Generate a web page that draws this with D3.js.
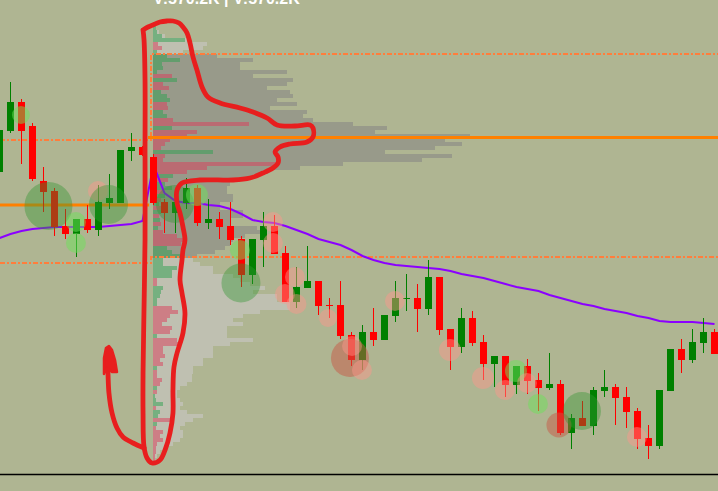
<!DOCTYPE html>
<html><head><meta charset="utf-8">
<script src="https://cdn.jsdelivr.net/npm/d3@7"></script>
<style>html,body{margin:0;padding:0;background:#afb592;overflow:hidden}svg{display:block}</style>
</head><body>
<svg id="c" width="718" height="491"></svg>
<script>
// ---------- DATA ----------
const candleOpen  = [328,369,398,374,319,309,274,266,281,270, 297,297,349,353,343,298,287,297,312,277, 281,274,261,225,260,274,247,198,212,219, 195,195,165,140,168,160,184,201,202,191, 223,171,153,182,158,136,144,115,134,120, 112,116,67,82,74,109,113,103,89,62, 54,109,151,140,157,168];
const candleHigh  = [372,418,401,377,333,312,291,281,295,315, 326,350,367,354,346,301,300,322,315,301, 288,298,264,261,288,285,254,233,254,219, 202,219,168,175,192,185,219,226,216,240, 223,171,192,189,165,144,144,134,141,127, 147,120,86,99,113,130,116,113,92,75, 110,151,161,171,182,171];
const candleLow   = [326,367,336,319,288,264,261,243,267,264, 291,297,339,344,295,267,267,291,274,271, 261,255,213,216,233,246,198,192,212,185, 182,161,134,130,154,160,178,189,168,185, 165,130,147,154,120,113,103,106,106,89, 110,65,51,74,65,103,75,72,51,41, 51,109,127,137,147,146];
const candleClose = [370,398,369,321,308,273,266,281,270,298, 302,350,353,345,297,287,298,312,277,281, 273,260,225,261,274,246,198,213,219,194, 194,164,140,168,160,185,202,202,191,223, 170,153,182,157,136,144,115,134,119,112, 116,67,82,74,110,113,102,88,61,54, 110,151,140,158,168,146];
const vwap = [262,266,269,271,272,273,273,273,273,273, 274,275,276,279,335,307,299,297,297,295, 294,291,286,280,278,277,274,270,266,261, 258,255,250,244,240,237,235,234,233,232, 231,229,226,224,222,219,216,213,211,209, 205,202,199,196,194,191,189,187,184,182, 179,178,178,178,177,176];

// volume profile (current session), rows from top price downward
const profileTopPrice = 474;
const profileRowSize = 4;
const profileAnchorIndex = 13.95;
const profileVolume = [3,6,12,34,54,50,30,64,100,87, 87,134,100,140,134,114,137,140,124,144, 117,154,150,160,200,234,222,317,292,309, 282,232,299,269,190,147,115,100,87,77, 74,74,80,80,67,67,90,90,77,77, 104,107,92,80,77,72,62,44,40,47, 60,60,80,87,97,112,100,124,124,137, 137,107,90,80,90,74,74,74,100,77, 60,60,60,50,50,40,40,39,39,34, 27,24,24,27,30,27,34,50,40,32, 27,30,30,27,20,14,7,4,2];
const profileDelta = [3,4,9,32,-5,-9,4,14,27,9, 10,4,-19,24,-10,-16,8,14,17,-14, -15,10,14,-20,-96,19,-44,-34,-17,-12, -8,60,-12,-10,-125,-54,-34,20,-15,12, 19,-10,12,-8,6,-10,8,-6,7,-8, 5,-10,-24,-30,-28,14,19,27,10,10, 24,19,19,-4,-4,10,8,7,4,4, -19,-25,-17,-14,-9,-19,-17,4,-24,-27, -10,-10,-12,-7,-10,4,-4,-4,-9,-7, 4,-4,2,3,10,-3,7,5,-17,4, -3,-10,-7,-10,-4,-3,-3,-2,-2];

// session levels
const sessionSplit = 13.77;
const prevLevels = {poc: 295, vah: 360, val: 237};
const currLevels = {poc: 362.5, vah: 446, val: 243};

// volume bubbles
const bubbleIndex = [1.95,4.45,8.95,9.91,6.95,6.95,15.95,17.95,24.86,24.86,21.86,21.95,26.86,25.95,27.0,29.86,31.86,32.95,32.05,35.95,40.95,43.95,46.95,45.95,47.95,48.95,50.86,52.95,57.95];
const bubblePrice = [385,294,309,295.5,278,257,296,305,278,257,250,217,223,206,196,182,142,130,154,199,150,122,129,110,117,96,75,89,63];
const bubbleVolume = [84,600,104,396,104,104,376,126,104,104,104,396,104,104,104,84,376,104,104,104,126,126,126,104,104,104,163,376,104];
const bubbleSide = ["buy","buy","sell","buy","buy","buy","buy","buy","sell","sell","buy","buy","sell","sell","sell","sell","sell","sell","sell","sell","sell","sell","buy","sell","sell","buy","sell","buy","sell"];
const bubbleLevel = [1,2,1,2,1,1,2,1,1,1,1,2,1,1,1,1,2,1,1,1,1,1,1,1,1,1,2,2,1];

const headerText = "V:570.2K | V:570.2K";

// hand-drawn annotation (bar index, price)
const noteLoop = [[13.05,470],[13.5,473],[13.95,475],[14.59,478],[15.23,479],[15.77,479],[16.32,477],[16.68,473],[17.05,467],[17.32,457],[17.59,443],[17.95,430],[18.41,413],[18.95,403],[20.05,397],[21.86,392],[23.05,388],[24.32,382],[25.23,375],[26.86,374],[28.23,375],[28.5,372],[28.5,363],[27.95,358],[26.41,356],[25.5,353],[25.05,348],[25.32,343],[25.32,337],[24.86,332],[23.95,327],[22.77,322],[21.23,320],[18.23,320],[16.59,317],[16.14,310],[16.14,297],[16.41,287],[16.68,273],[16.86,260],[16.68,250],[16.59,240],[16.41,220],[16.59,207],[16.86,187],[16.68,167],[16.14,147],[15.86,133],[15.77,110],[15.77,87],[15.5,67],[15.05,50],[14.59,40],[13.86,37],[13.41,42],[13.14,53],[13.05,87],[13.05,127],[13.14,193],[13.23,260],[13.23,350],[13.23,420],[13.14,460],[13.05,470]];
const noteArrow = [[13.14,52],[12.14,57],[11.23,63],[10.68,72],[10.23,87],[9.95,107],[9.86,127],[9.77,145]];
const noteHead = [[9.5,126],[9.5,142],[9.68,152],[9.95,154],[10.23,150],[10.5,140],[10.68,128],[10.23,128],[9.77,132]];

// ---------- DRAW ----------
const W = 718, H = 491;
const svg = d3.select("#c");
const x = d3.scaleLinear().domain([0, 65]).range([-0.5, 714.5]);
const y = d3.scaleLinear().domain([9, 500]).range([491, 0]);
const vol = d3.scaleLinear().domain([0, 320]).range([0, 320]);
const rad = d3.scaleSqrt().domain([0, 600]).range([0, 24]);
const xLeft = x.invert(0), xRight = x.invert(W);
const step = x(1) - x(0);
const bodyW = Math.round(step * 0.64);

svg.append("rect").attr("width", W).attr("height", H).attr("fill", "#afb592");

// volume profile
const gP = svg.append("g").attr("shape-rendering", "crispEdges");
const px0 = x(profileAnchorIndex);
profileVolume.forEach((v, r) => {
  const pTop = profileTopPrice - r * profileRowSize;
  const pMid = pTop - profileRowSize / 2;
  const inVA = pMid >= currLevels.val && pMid <= currLevels.vah;
  gP.append("rect").attr("x", px0).attr("y", y(pTop))
    .attr("width", vol(v) - vol(0)).attr("height", y(pTop - profileRowSize) - y(pTop))
    .attr("fill", inVA ? "#989a8a" : "#bfc0b1");
  const d = profileDelta[r];
  gP.append("rect").attr("x", px0).attr("y", y(pTop))
    .attr("width", vol(Math.abs(d)) - vol(0)).attr("height", y(pTop - profileRowSize) - y(pTop))
    .attr("fill", d >= 0 ? "rgba(46,160,80,0.5)" : "rgba(220,60,90,0.5)");
});

// level lines
const lineXY = d3.line().x(d => x(d[0])).y(d => y(d[1]));
const gL = svg.append("g").attr("fill", "none");
gL.append("path").attr("d", lineXY([[xLeft, prevLevels.vah], [sessionSplit, prevLevels.vah], [sessionSplit, currLevels.vah], [xRight, currLevels.vah]]))
  .attr("stroke", "#ff7d3c").attr("stroke-width", 2).attr("stroke-dasharray", "5,2,2,2").attr("shape-rendering", "crispEdges");
gL.append("path").attr("d", lineXY([[xLeft, prevLevels.val], [sessionSplit, prevLevels.val], [sessionSplit, currLevels.val], [xRight, currLevels.val]]))
  .attr("stroke", "#ff7d3c").attr("stroke-width", 2).attr("stroke-dasharray", "5,2,2,2").attr("shape-rendering", "crispEdges");
gL.append("path").attr("d", lineXY([[xLeft, prevLevels.poc], [13.6, prevLevels.poc]]))
  .attr("stroke", "#ff8000").attr("stroke-width", 3);
gL.append("path").attr("d", lineXY([[13.5, currLevels.poc], [xRight, currLevels.poc]]))
  .attr("stroke", "#ff8000").attr("stroke-width", 3);

// VWAP
svg.append("path").datum(vwap)
  .attr("d", d3.line().x((d, i) => x(i)).y(d => y(d)))
  .attr("fill", "none").attr("stroke", "#8b00ff").attr("stroke-width", 2);

// candles
const gC = svg.append("g").attr("shape-rendering", "crispEdges");
candleOpen.forEach((o, i) => {
  const c = candleClose[i], up = c >= o;
  const col = up ? "#008000" : "#ff0000";
  const cx = x(i);
  gC.append("rect").attr("x", cx - 0.5).attr("y", y(candleHigh[i]))
    .attr("width", 1).attr("height", Math.max(1, y(candleLow[i]) - y(candleHigh[i]))).attr("fill", col);
  const top = y(Math.max(o, c)), bot = y(Math.min(o, c));
  gC.append("rect").attr("x", cx - bodyW / 2).attr("y", top)
    .attr("width", bodyW).attr("height", Math.max(1, bot - top)).attr("fill", col);
});

// bubbles
const bubbleColor = {buy: {1: "rgba(110,225,90,0.5)", 2: "rgba(50,150,50,0.4)"}, sell: {1: "rgba(255,150,140,0.45)", 2: "rgba(200,90,70,0.5)"}};
bubbleIndex.forEach((bi, k) => {
  svg.append("circle").attr("cx", x(bi)).attr("cy", y(bubblePrice[k]))
    .attr("r", rad(bubbleVolume[k])).attr("fill", bubbleColor[bubbleSide[k]][bubbleLevel[k]]);
});

// header text
svg.append("text").attr("x", x(profileAnchorIndex)).attr("y", 4)
  .attr("font-family", "'Liberation Sans', Arial, sans-serif").attr("font-weight", "bold")
  .attr("font-size", 16).attr("fill", "#ffffff").text(headerText);

// bottom separator
svg.append("line").attr("x1", 0).attr("x2", W).attr("y1", 474.5).attr("y2", 474.5)
  .attr("stroke", "#000").attr("stroke-width", 1.3);

// annotation
const curve = d3.line().x(d => x(d[0])).y(d => y(d[1])).curve(d3.curveCatmullRom.alpha(0.5));
const gA = svg.append("g").attr("stroke", "#e81e1e").attr("stroke-width", 4.8)
  .attr("stroke-linecap", "round").attr("stroke-linejoin", "round");
gA.append("path").attr("d", curve(noteLoop)).attr("fill", "none");
gA.append("path").attr("d", curve(noteArrow)).attr("fill", "none");
gA.append("path").attr("d", curve.curve(d3.curveLinearClosed)(noteHead)).attr("fill", "#e81e1e").attr("stroke-width", 2.5);
</script>
</body></html>
